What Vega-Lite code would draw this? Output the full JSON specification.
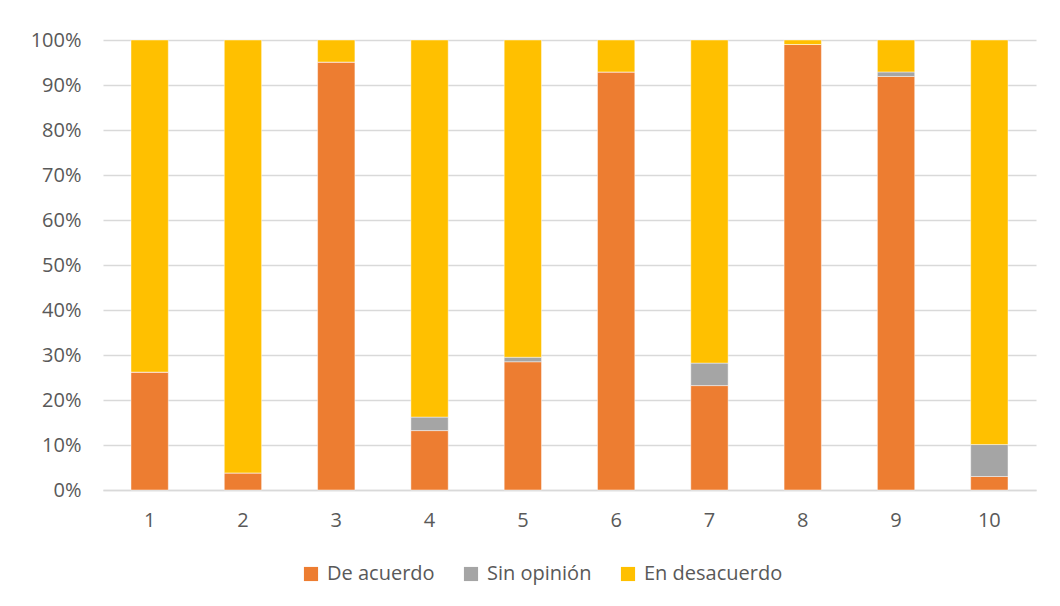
{
  "$schema": "https://vega.github.io/schema/vega-lite/v6.json",
  "autosize": "none",
  "padding": {"left": 103, "top": 40, "right": 24, "bottom": 116},
  "width": 933,
  "height": 450,
  "background": "white",
  "config": {
    "view": {"stroke": null},
    "font": "Open Sans"
  },
  "data": {
    "values": [
      {"pregunta": 1, "respuesta": "De acuerdo", "orden": 1, "valor": 26.2},
      {"pregunta": 1, "respuesta": "Sin opinión", "orden": 2, "valor": 0},
      {"pregunta": 1, "respuesta": "En desacuerdo", "orden": 3, "valor": 73.8},
      {"pregunta": 2, "respuesta": "De acuerdo", "orden": 1, "valor": 3.8},
      {"pregunta": 2, "respuesta": "Sin opinión", "orden": 2, "valor": 0},
      {"pregunta": 2, "respuesta": "En desacuerdo", "orden": 3, "valor": 96.2},
      {"pregunta": 3, "respuesta": "De acuerdo", "orden": 1, "valor": 95.1},
      {"pregunta": 3, "respuesta": "Sin opinión", "orden": 2, "valor": 0},
      {"pregunta": 3, "respuesta": "En desacuerdo", "orden": 3, "valor": 4.9},
      {"pregunta": 4, "respuesta": "De acuerdo", "orden": 1, "valor": 13.2},
      {"pregunta": 4, "respuesta": "Sin opinión", "orden": 2, "valor": 3.0},
      {"pregunta": 4, "respuesta": "En desacuerdo", "orden": 3, "valor": 83.8},
      {"pregunta": 5, "respuesta": "De acuerdo", "orden": 1, "valor": 28.5},
      {"pregunta": 5, "respuesta": "Sin opinión", "orden": 2, "valor": 1.0},
      {"pregunta": 5, "respuesta": "En desacuerdo", "orden": 3, "valor": 70.5},
      {"pregunta": 6, "respuesta": "De acuerdo", "orden": 1, "valor": 92.9},
      {"pregunta": 6, "respuesta": "Sin opinión", "orden": 2, "valor": 0},
      {"pregunta": 6, "respuesta": "En desacuerdo", "orden": 3, "valor": 7.1},
      {"pregunta": 7, "respuesta": "De acuerdo", "orden": 1, "valor": 23.2},
      {"pregunta": 7, "respuesta": "Sin opinión", "orden": 2, "valor": 5.0},
      {"pregunta": 7, "respuesta": "En desacuerdo", "orden": 3, "valor": 71.8},
      {"pregunta": 8, "respuesta": "De acuerdo", "orden": 1, "valor": 99.0},
      {"pregunta": 8, "respuesta": "Sin opinión", "orden": 2, "valor": 0},
      {"pregunta": 8, "respuesta": "En desacuerdo", "orden": 3, "valor": 1.0},
      {"pregunta": 9, "respuesta": "De acuerdo", "orden": 1, "valor": 91.9},
      {"pregunta": 9, "respuesta": "Sin opinión", "orden": 2, "valor": 1.0},
      {"pregunta": 9, "respuesta": "En desacuerdo", "orden": 3, "valor": 7.1},
      {"pregunta": 10, "respuesta": "De acuerdo", "orden": 1, "valor": 3.0},
      {"pregunta": 10, "respuesta": "Sin opinión", "orden": 2, "valor": 7.1},
      {"pregunta": 10, "respuesta": "En desacuerdo", "orden": 3, "valor": 89.9}
    ]
  },
  "mark": {"type": "bar", "stroke": "white", "strokeWidth": 0.75, "strokeOpacity": 0.6},
  "encoding": {
    "x": {
      "field": "pregunta",
      "type": "ordinal",
      "title": null,
      "scale": {"paddingInner": 0.6, "paddingOuter": 0.3},
      "axis": {
        "labelAngle": 0,
        "labelFontSize": 20,
        "labelColor": "#595959",
        "labelPadding": 20,
        "ticks": false,
        "domainColor": "#d9d9d9",
        "domainWidth": 1.5,
        "grid": false
      }
    },
    "y": {
      "field": "valor",
      "type": "quantitative",
      "stack": "normalize",
      "title": null,
      "scale": {"domain": [0, 1], "nice": false},
      "axis": {
        "values": [0, 0.1, 0.2, 0.3, 0.4, 0.5, 0.6, 0.7, 0.8, 0.9, 1],
        "format": ".0%",
        "labelFontSize": 20,
        "labelColor": "#595959",
        "labelPadding": 22,
        "ticks": false,
        "domain": false,
        "grid": true,
        "gridColor": "#d9d9d9",
        "gridWidth": 1.3
      }
    },
    "color": {
      "field": "respuesta",
      "type": "nominal",
      "sort": ["De acuerdo", "Sin opinión", "En desacuerdo"],
      "scale": {
        "domain": ["De acuerdo", "Sin opinión", "En desacuerdo"],
        "range": ["#ED7D31", "#A5A5A5", "#FFC000"]
      },
      "legend": {
        "title": null,
        "orient": "none",
        "direction": "horizontal",
        "legendX": 198,
        "legendY": 524,
        "symbolType": "square",
        "symbolSize": 200,
        "symbolStrokeWidth": 0,
        "labelFontSize": 20,
        "labelColor": "#595959",
        "labelOffset": 6,
        "columnPadding": 26,
        "labelLimit": 300
      }
    },
    "order": {"field": "orden", "type": "quantitative"}
  }
}
